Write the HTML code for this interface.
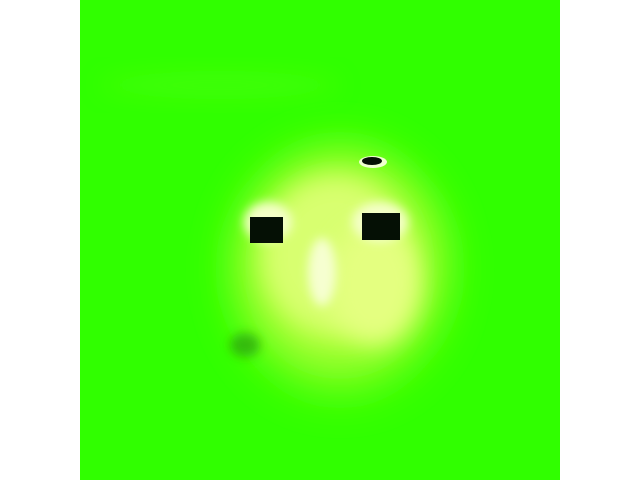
<!DOCTYPE html>
<html>
<head>
<meta charset="utf-8">
<style>
  html, body { margin: 0; padding: 0; background: #ffffff; }
  body { width: 640px; height: 480px; overflow: hidden; font-family: "Liberation Sans", sans-serif; }
  svg { display: block; }
</style>
</head>
<body>
<svg width="640" height="480" viewBox="0 0 640 480">
  <defs>
    <filter id="blurBig" x="-50%" y="-50%" width="200%" height="200%"><feGaussianBlur stdDeviation="22"/></filter>
    <filter id="blurMid" x="-50%" y="-50%" width="200%" height="200%"><feGaussianBlur stdDeviation="12"/></filter>
    <filter id="blurSmall" x="-50%" y="-50%" width="200%" height="200%"><feGaussianBlur stdDeviation="5"/></filter>
    <clipPath id="imgClip"><rect x="80" y="0" width="480" height="480"/></clipPath>
  </defs>
  <g clip-path="url(#imgClip)">
    <rect x="80" y="0" width="480" height="480" fill="#30ff00"/>
    <ellipse cx="220" cy="85" rx="120" ry="14" fill="#50ff10" filter="url(#blurMid)" opacity="0.5"/>
    <ellipse cx="340" cy="270" rx="110" ry="125" fill="#70ff18" filter="url(#blurBig)"/>
    <ellipse cx="340" cy="262" rx="92" ry="100" fill="#b8ff40" filter="url(#blurBig)"/>
    <ellipse cx="335" cy="255" rx="72" ry="78" fill="#d8ff70" filter="url(#blurMid)"/>
    <ellipse cx="375" cy="285" rx="45" ry="60" fill="#e4ff80" filter="url(#blurMid)"/>
    <ellipse cx="322" cy="272" rx="14" ry="34" fill="#f6ffd0" filter="url(#blurSmall)"/>
    <ellipse cx="268" cy="222" rx="24" ry="20" fill="#f4ffc8" filter="url(#blurSmall)"/>
    <ellipse cx="380" cy="222" rx="28" ry="20" fill="#f4ffc8" filter="url(#blurSmall)"/>
    <ellipse cx="245" cy="345" rx="15" ry="12" fill="#2aa010" filter="url(#blurSmall)" opacity="0.7"/>
    <rect x="250" y="217" width="33" height="26" fill="#051005"/>
    <rect x="362" y="213" width="38" height="27" fill="#051005"/>
    <ellipse cx="373" cy="162" rx="14" ry="6" fill="#f0ffd0"/>
    <ellipse cx="372" cy="161" rx="10" ry="4" fill="#051005"/>
  </g>
</svg>
</body>
</html>
